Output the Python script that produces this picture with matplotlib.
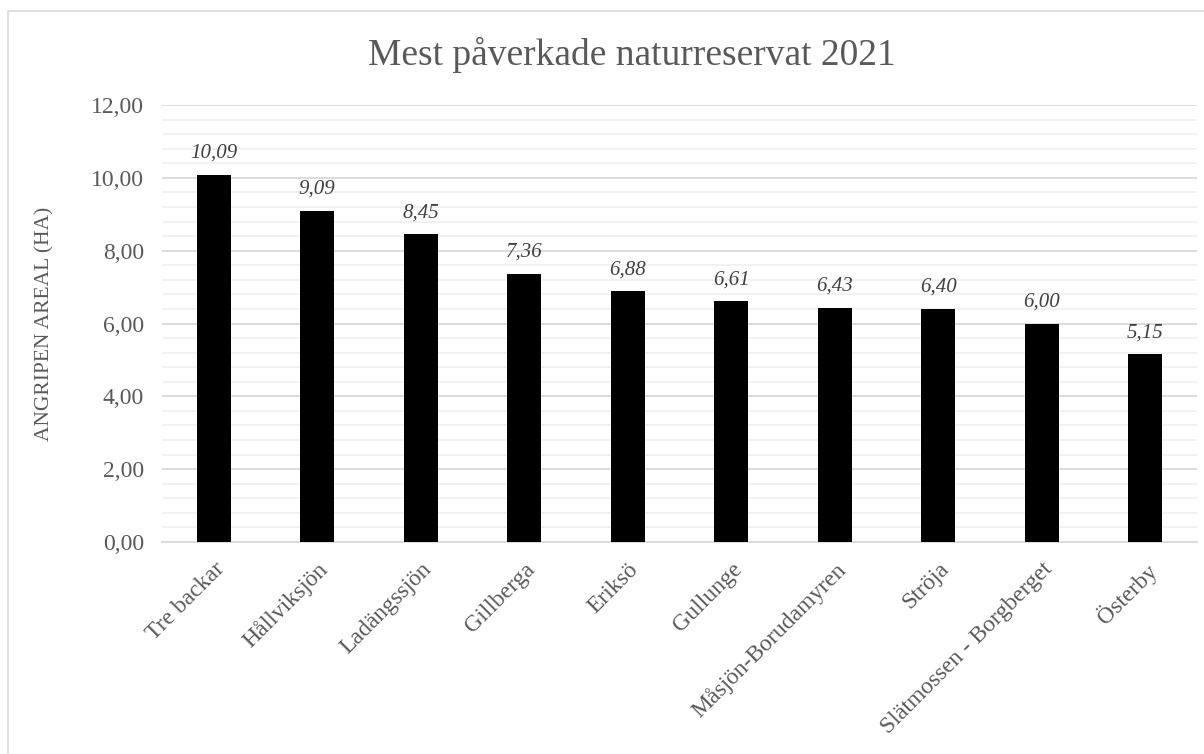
import matplotlib.pyplot as plt
from matplotlib.patches import Rectangle
from matplotlib.ticker import MultipleLocator, FuncFormatter

plt.rcParams['font.family'] = ['Liberation Serif', 'DejaVu Serif']

reserves = ['Tre backar', 'Hållviksjön', 'Ladängssjön', 'Gillberga', 'Eriksö',
            'Gullunge', 'Måsjön-Borudamyren', 'Ströja', 'Slätmossen - Borgberget',
            'Österby']
area_ha = [10.09, 9.09, 8.45, 7.36, 6.88, 6.61, 6.43, 6.40, 6.00, 5.15]


def comma(v, _pos=None):
    return f'{v:.2f}'.replace('.', ',')


fig = plt.figure(figsize=(12.04, 7.54), dpi=100)
ax = fig.add_axes([162 / 1204, 1 - 542 / 754, (1197 - 162) / 1204, (542 - 105) / 754])

# ram runt diagrammet (Excel-stil)
fig.patches.append(Rectangle((8 / 1204, -0.05), 1.2, 1 - 11 / 754 + 0.05,
                             transform=fig.transFigure, fill=False,
                             edgecolor='#d9d9d9', linewidth=1.2))

x = range(len(reserves))
ax.bar(x, area_ha, width=0.33, color='black', zorder=3)

for xi, v in zip(x, area_ha):
    ax.text(xi, v + 0.33, comma(v), ha='center', va='bottom',
            fontsize=15, style='italic', color='#404040')

ax.set_ylim(0, 12)
ax.set_xlim(-0.5, len(reserves) - 0.5)
ax.yaxis.set_major_locator(MultipleLocator(2))
ax.yaxis.set_minor_locator(MultipleLocator(0.4))
ax.yaxis.set_major_formatter(FuncFormatter(comma))
ax.grid(axis='y', which='major', color='#d9d9d9', linewidth=1.3, zorder=0)
ax.grid(axis='y', which='minor', color='#f0f0f0', linewidth=1.3, zorder=0)
for s in ['top', 'right', 'left']:
    ax.spines[s].set_visible(False)
ax.spines['bottom'].set_color('#d9d9d9')
ax.spines['bottom'].set_linewidth(1.3)
ax.tick_params(axis='both', which='both', length=0)
ax.tick_params(axis='y', labelsize=17, labelcolor='#595959', pad=13)

ax.set_xticks(list(x))
ax.set_xticklabels(reserves, rotation=45, ha='right', rotation_mode='anchor',
                   fontsize=17, color='#595959')
ax.tick_params(axis='x', pad=12)

ax.set_ylabel('ANGRIPEN AREAL (HA)', fontsize=15.5, color='#595959', labelpad=26)
fig.text(0.5 + 30 / 1204, 1 - 55 / 754, 'Mest påverkade naturreservat 2021',
         ha='center', va='center', fontsize=27, color='#595959')

fig.savefig('out.png', dpi=100)
